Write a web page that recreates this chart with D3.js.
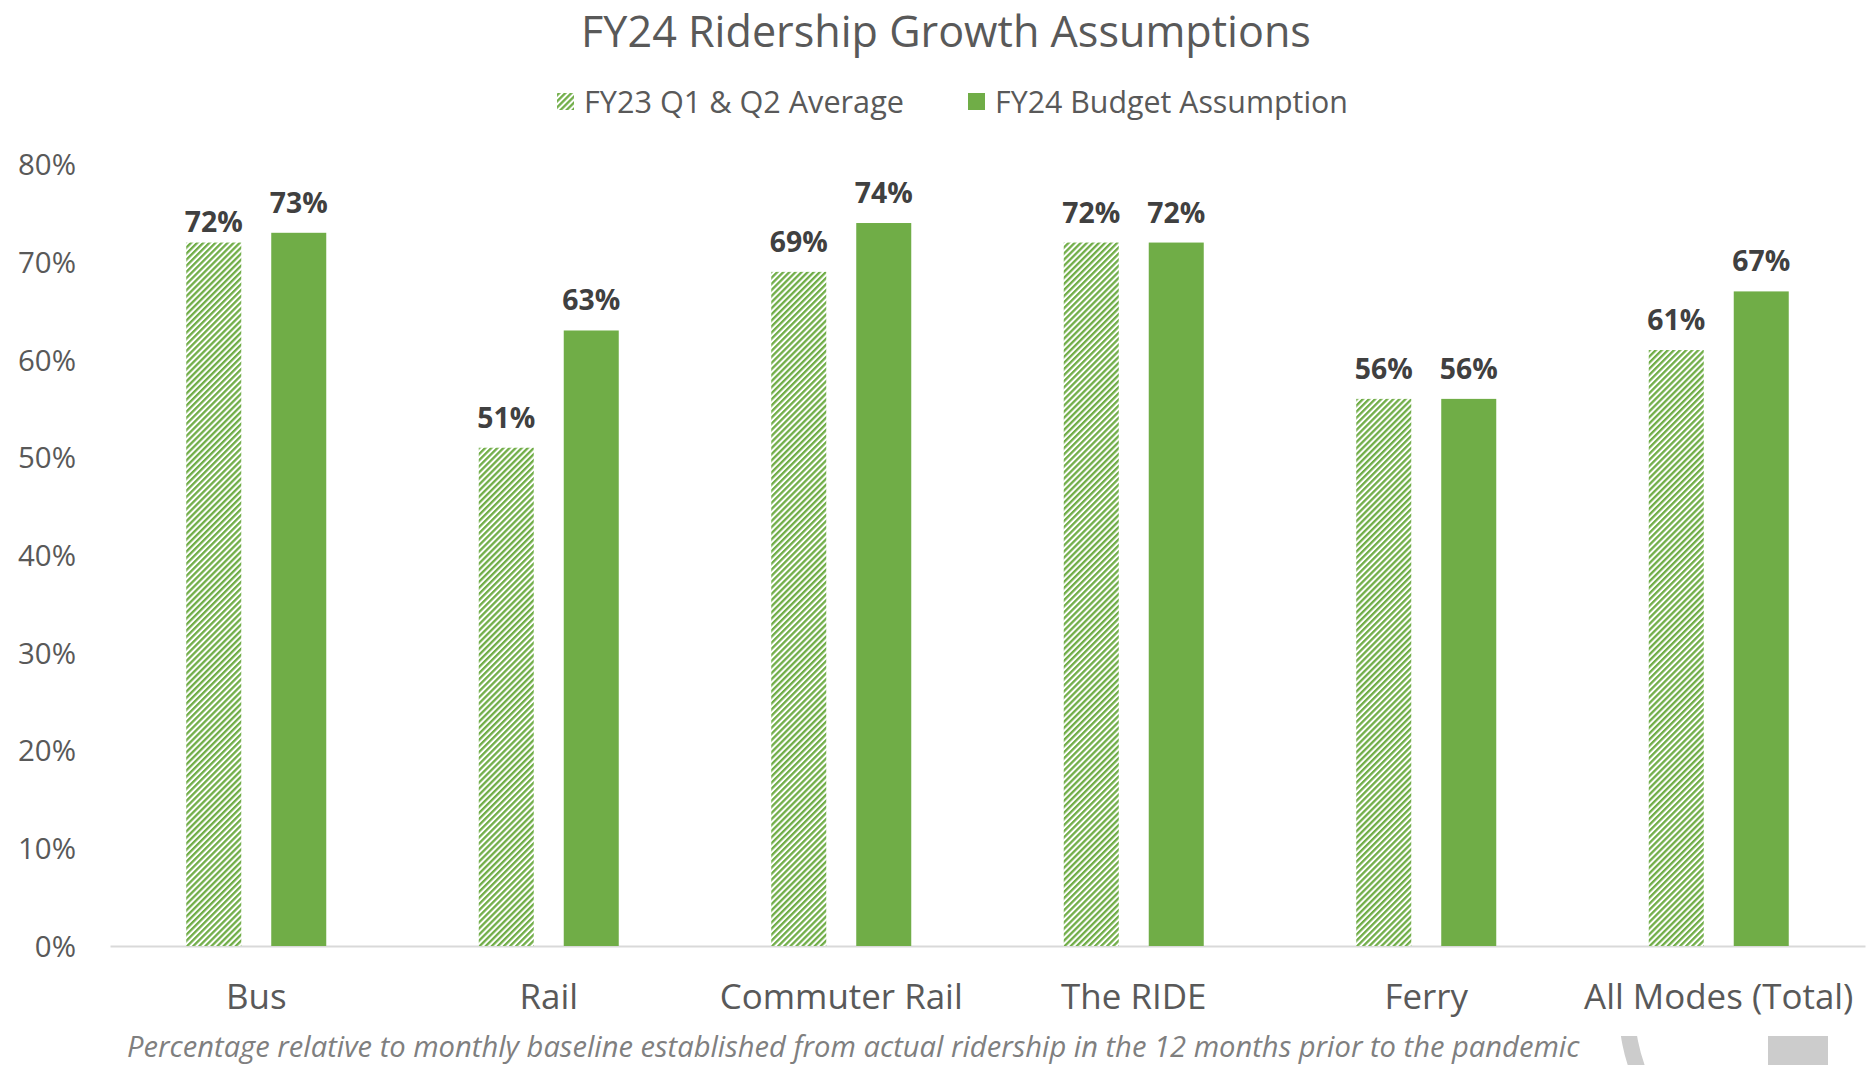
<!DOCTYPE html>
<html><head><meta charset="utf-8">
<script src="https://cdn.jsdelivr.net/npm/d3@7"></script>
<style>html,body{margin:0;padding:0;background:#fff;}svg{display:block;font-family:"Open Sans",sans-serif;}</style>
</head><body><svg id="c" width="1874" height="1065"></svg>
<script>
const categories = ["Bus", "Rail", "Commuter Rail", "The RIDE", "Ferry", "All Modes (Total)"];
const seriesNames = ["FY23 Q1 & Q2 Average", "FY24 Budget Assumption"];
const fy23Avg = [0.72, 0.51, 0.69, 0.72, 0.56, 0.61];
const fy24Budget = [0.73, 0.63, 0.74, 0.72, 0.56, 0.67];
const yTicks = [0, 0.1, 0.2, 0.3, 0.4, 0.5, 0.6, 0.7, 0.8];
const title = "FY24 Ridership Growth Assumptions";
const footnote = "Percentage relative to monthly baseline established from actual ridership in the 12 months prior to the pandemic";

const W = 1874, H = 1065;
const GREEN = "#70AD47", GRAY = "#595959";
const svg = d3.select("#c");
const defs = svg.append("defs");
const P = 4.3;
const pat = defs.append("pattern").attr("id","hatch").attr("patternUnits","userSpaceOnUse")
  .attr("width",P).attr("height",P).attr("patternTransform","rotate(45)");
pat.append("rect").attr("width",P).attr("height",P).attr("fill","#fff");
pat.append("rect").attr("x",0).attr("y",0).attr("width",2.3).attr("height",P).attr("fill",GREEN);

function fit(sel, target){
  const w = sel.node().getComputedTextLength();
  const fs = parseFloat(sel.attr("font-size"));
  sel.attr("font-size", (fs*target/w).toFixed(2));
  return fs*target/w;
}

const x = d3.scaleBand().domain(categories).range([110, 1865]).paddingInner(0).paddingOuter(0);
const xi = d3.scaleBand().domain(seriesNames).paddingInner(0.3529).paddingOuter(0)
  .range([x.bandwidth()/2 - 70, x.bandwidth()/2 + 70]);
const y = d3.scaleLinear().domain([0, 0.8]).range([946, 164.4]);

// title
const t = svg.append("text").attr("x",946).attr("y",42).attr("text-anchor","middle")
  .attr("fill",GRAY).attr("font-size",40).text(title);
fit(t, 730);
{
  const bb = t.node().getBBox();
  if (bb.y < 1) t.attr("y", 42 + (1 - bb.y));
}

// legend
const lg = svg.append("g");
const l1 = lg.append("text").attr("x",584).attr("y",101).attr("dominant-baseline","central")
  .attr("fill",GRAY).attr("font-size",26).text(seriesNames[0]);
fit(l1, 320);
const l2 = lg.append("text").attr("x",995).attr("y",101).attr("dominant-baseline","central")
  .attr("fill",GRAY).attr("font-size",26).text(seriesNames[1]);
fit(l2, 353);
lg.append("rect").attr("x",557).attr("y",93).attr("width",17).attr("height",17).attr("fill","url(#hatch)");
lg.append("rect").attr("x",968).attr("y",93).attr("width",17).attr("height",17).attr("fill",GREEN);

// y axis labels
const yAxis = d3.axisLeft(y).tickValues(yTicks).tickFormat(d3.format(".0%")).tickSize(0).tickPadding(0);
const ya = svg.append("g").attr("transform","translate(76,0)").call(yAxis);
ya.select(".domain").remove();
ya.selectAll("text").attr("fill",GRAY).attr("font-family","Open Sans").attr("font-size",27).attr("dy","0.35em");
{
  const n = ya.selectAll("text").filter(d=>d===0.8).node();
  const w = n.getComputedTextLength();
  ya.selectAll("text").attr("font-size", (27*58/w).toFixed(2));
}

// baseline axis
const xa = svg.append("g").attr("transform","translate(0,946)")
  .call(d3.axisBottom(x).tickSize(0).tickPadding(0));
xa.select(".domain").attr("stroke","#d9d9d9").attr("stroke-width",2);
xa.selectAll("text").attr("fill",GRAY).attr("font-family","Open Sans").attr("font-size",30)
  .attr("y",51).attr("dy","0.35em");
{
  const n = xa.selectAll("text").filter(d=>d==="Commuter Rail").node();
  const w = n.getComputedTextLength();
  xa.selectAll("text").attr("font-size",(30*243/w).toFixed(2));
}

// bars
const rows = categories.map((c,i)=>({cat:c, vals:[{s:seriesNames[0],v:fy23Avg[i]},{s:seriesNames[1],v:fy24Budget[i]}]}));
const g = svg.append("g").selectAll("g").data(rows).join("g")
  .attr("transform", d=>`translate(${x(d.cat)},0)`);
g.selectAll("rect").data(d=>d.vals).join("rect")
  .attr("x", d=>xi(d.s)).attr("width", xi.bandwidth())
  .attr("y", d=>y(d.v)).attr("height", d=>y(0)-y(d.v))
  .attr("fill", (d,i)=> i===0 ? "url(#hatch)" : GREEN);
const labels = g.selectAll("text").data(d=>d.vals.map(v=>({...v,cat:d.cat}))).join("text")
  .attr("x", d=>xi(d.s)+xi.bandwidth()/2)
  .attr("y", d=> y(d.v) - ((d.cat==="Bus" && d.s===seriesNames[0]) ? 11 : 20))
  .attr("text-anchor","middle").attr("font-weight","bold").attr("fill","#404040")
  .attr("font-size",28).text(d=>d3.format(".0%")(d.v));
{
  const n = labels.filter(d=>d.v===0.74).node();
  const w = n.getComputedTextLength();
  labels.attr("font-size",(28*58/w).toFixed(2));
}

// footnote
const fn = svg.append("text").attr("x",127).attr("y",1057).attr("font-style","italic")
  .attr("fill","#7f7f7f").attr("font-size",25).text(footnote);
fit(fn, 1453);

// decorative logo fragment (gray) at bottom right
defs.append("clipPath").attr("id","logoClip").append("rect").attr("x",1500).attr("y",1036).attr("width",374).attr("height",40);
const logo = svg.append("g").attr("clip-path","url(#logoClip)");
logo.append("path").attr("d", d3.arc().innerRadius(162).outerRadius(178).startAngle(0).endAngle(2*Math.PI)())
  .attr("transform","translate(1797,1010)").attr("fill","#cccccc");
logo.append("rect").attr("x",1768).attr("y",1036).attr("width",60).attr("height",40).attr("fill","#cccccc");
</script></body></html>
